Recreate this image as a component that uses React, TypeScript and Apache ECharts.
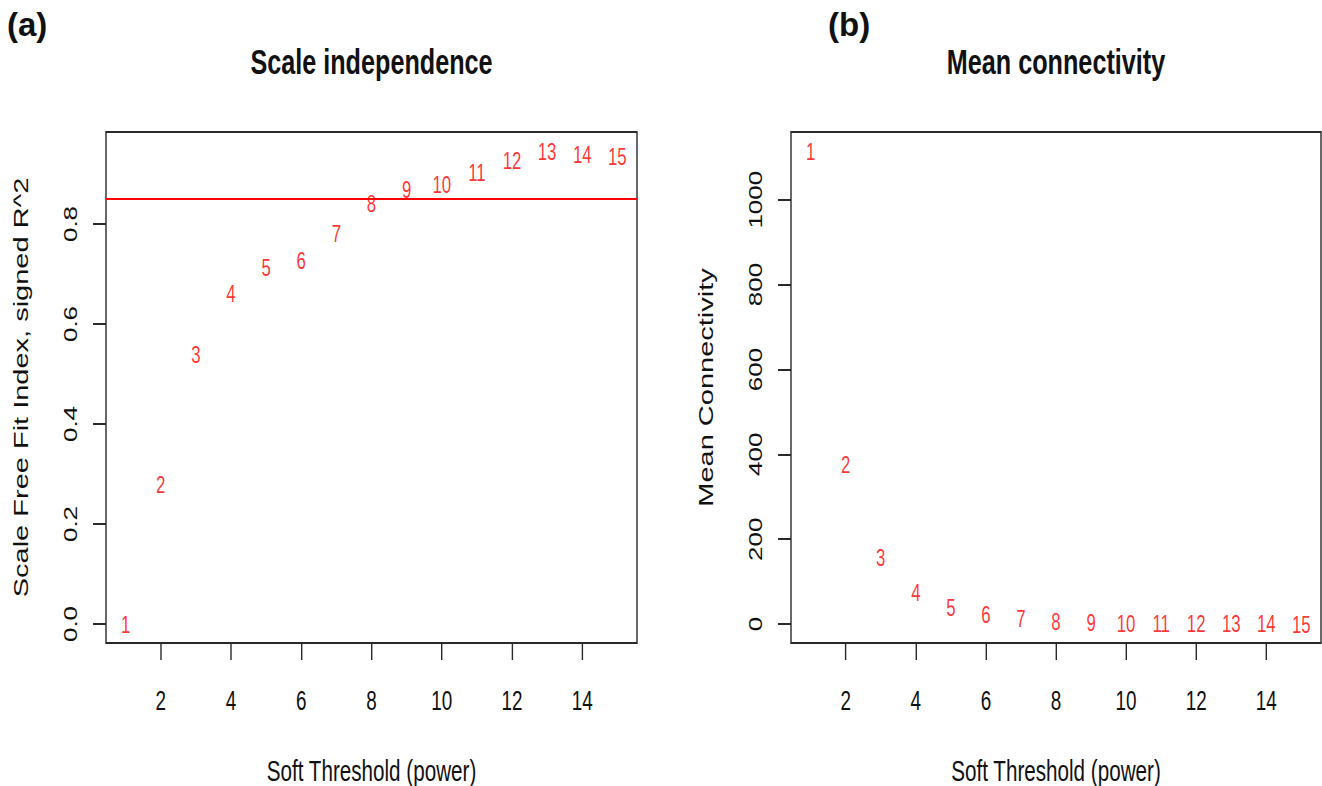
import React, { useEffect, useRef } from "react";
import * as echarts from "echarts";

const powers = [1, 2, 3, 4, 5, 6, 7, 8, 9, 10, 11, 12, 13, 14, 15];
const scaleFreeFit = [0.0, 0.279, 0.54, 0.661, 0.713, 0.727, 0.781, 0.841, 0.869, 0.879, 0.904, 0.927, 0.945, 0.939, 0.935];
const meanConnectivity = [1115, 377, 158, 76, 40, 22, 13.5, 7, 4, 2.5, 1.8, 1.3, 1, 0.8, 0.6];
const xTicks = [2, 4, 6, 8, 10, 12, 14];
const fitTicks = [0, 0.2, 0.4, 0.6, 0.8];
const connTicks = [0, 200, 400, 600, 800, 1000];
const cutoff = 0.85;
const titles = ["Scale independence", "Mean connectivity"];
const panelLabels = ["(a)", "(b)"];
const xName = "Soft Threshold (power)";
const yNames = ["Scale Free Fit Index, signed R^2", "Mean Connectivity"];

// The reference is a horizontally condensed R plot; the whole chart is drawn
// at a wider size and condensed with the same factor.
const SQ = 0.7;
const W = 1322;
const H = 786;
const FONT = "'Liberation Sans', Arial, Helvetica, sans-serif";
const RED = "#ff0000";
const INK = "#2a2a2a";

const sx = (v: number) => v / SQ;

export default function App() {
  const ref = useRef<HTMLDivElement>(null);
  useEffect(() => {
    if (!ref.current) return;
    const chart = echarts.init(ref.current, undefined, { renderer: "svg" });
    const grids = [
      { left: sx(106), top: 132, width: sx(531), height: 511, outerBoundsMode: "none", containLabel: false, show: true, borderColor: INK, borderWidth: 2, backgroundColor: "transparent" },
      { left: sx(791), top: 132, width: sx(530), height: 511, outerBoundsMode: "none", containLabel: false, show: true, borderColor: INK, borderWidth: 2, backgroundColor: "transparent" },
    ];
    const mkX = (gi: number) => ({
      type: "value",
      gridIndex: gi,
      min: 0.44,
      max: 15.56,
      axisLine: { show: false, onZero: false },
      splitLine: { show: false },
      axisTick: { show: true, inside: false, customValues: xTicks, length: 17, lineStyle: { color: INK, width: 2 } },
      axisLabel: { customValues: xTicks, margin: 44, fontSize: 27, fontFamily: FONT, color: "#111" },
      name: xName,
      nameLocation: "middle",
      nameGap: 113,
      nameTextStyle: { fontSize: 29.5, fontFamily: FONT, color: "#111", verticalAlign: "top" },
    });
    const mkY = (gi: number, min: number, max: number, ticks: number[], fmt: (v: number) => string) => ({
      type: "value",
      gridIndex: gi,
      min,
      max,
      axisLine: { show: false, onZero: false },
      splitLine: { show: false },
      axisTick: { show: true, inside: false, customValues: ticks, length: 18.5, lineStyle: { color: INK, width: 2 } },
      axisLabel: { customValues: ticks, rotate: 90, margin: 37, fontSize: 26, fontFamily: FONT, color: "#111", formatter: fmt },
      name: yNames[gi],
      nameLocation: "middle",
      nameRotate: 90,
      nameGap: 108,
      nameTextStyle: { fontSize: 29, fontFamily: FONT, color: "#111" },
    });
    const labelSeries = (gi: number, ys: number[]) => ({
      type: "scatter",
      xAxisIndex: gi,
      yAxisIndex: gi,
      symbol: "circle",
      symbolSize: 2,
      itemStyle: { color: "rgba(0,0,0,0)" },
      data: powers.map((p, i) => [p, ys[i]]),
      label: {
        show: true,
        position: "inside",
        formatter: (pr: any) => String(pr.value[0]),
        color: RED,
        fontSize: 24,
        fontFamily: FONT,
      },
      ...(gi === 0
        ? {
            markLine: {
              silent: true,
              symbol: ["none", "none"],
              label: { show: false },
              lineStyle: { color: RED, width: 1.8, type: "solid" },
              data: [{ yAxis: cutoff }],
            },
          }
        : {}),
    });
    chart.setOption({
      animation: false,
      backgroundColor: "#fff",
      grid: grids,
      xAxis: [mkX(0), mkX(1)],
      yAxis: [
        mkY(0, -0.038, 0.984, fitTicks, (v: number) => v.toFixed(1)),
        mkY(1, -44.5, 1159.5, connTicks, (v: number) => String(v)),
      ],
      series: [labelSeries(0, scaleFreeFit), labelSeries(1, meanConnectivity)],
      graphic: [
        { type: "text", x: sx(371.5), y: 62, style: { text: titles[0], align: "center", verticalAlign: "middle", font: `bold 36px ${FONT}`, fill: "#111" } },
        { type: "text", x: sx(1056), y: 62, style: { text: titles[1], align: "center", verticalAlign: "middle", font: `bold 36px ${FONT}`, fill: "#111" } },
        { type: "text", x: sx(7), y: 25, scaleX: 1 / SQ, style: { text: panelLabels[0], align: "left", verticalAlign: "middle", font: `bold 33px ${FONT}`, fill: "#111" } },
        { type: "text", x: sx(828), y: 25, scaleX: 1 / SQ, style: { text: panelLabels[1], align: "left", verticalAlign: "middle", font: `bold 33px ${FONT}`, fill: "#111" } },
      ],
    });
    return () => chart.dispose();
  }, []);
  return (
    <div style={{ position: "fixed", left: 0, top: 0, width: W, height: H, overflow: "hidden", background: "#fff" }}>
      <div
        ref={ref}
        style={{ width: Math.round(W / SQ), height: H, transform: `scaleX(${SQ})`, transformOrigin: "0 0" }}
      />
    </div>
  );
}
